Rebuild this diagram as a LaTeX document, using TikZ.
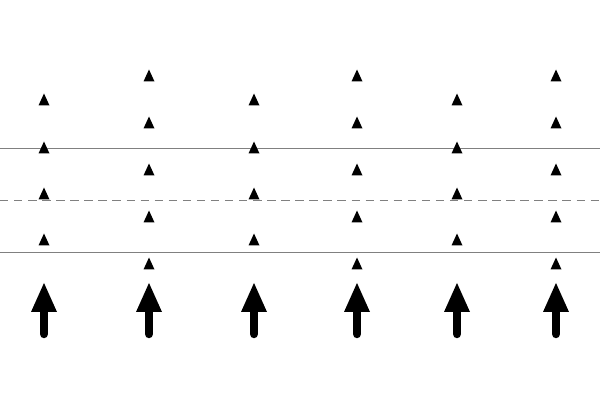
\documentclass[tikz,border=0pt]{standalone}
\usetikzlibrary{positioning}
\tikzset{
  guide/.style={gray, line width=0.5pt},
  marker/.style={fill=black},
  bigarrow/.style={line width=6pt, line cap=round}
}
\newcommand{\tri}[2]{\fill[marker] (#1-5.5,#2+5.5) -- (#1+5.5,#2+5.5) -- (#1,#2-6.5) -- cycle;}
\begin{document}
\begin{tikzpicture}[x=0.025cm,y=-0.025cm]
  \useasboundingbox (0,0) rectangle (600,400);
  % guide lines
  \draw[guide] (0,148) -- (600,148);
  \draw[guide] (0,252) -- (600,252);
  \draw[guide, dash pattern=on 6pt off 4pt] (0,200) -- (600,200);
  % short columns
  \foreach \x in {44,254,457} {
    \foreach \y in {100,148,194,240} { \tri{\x}{\y} }
  }
  % tall columns
  \foreach \x in {149,357,556} {
    \foreach \y in {76,123,170,217,264} { \tri{\x}{\y} }
  }
  % arrows
  \foreach \x in {44,149,254,357,457,556} {
    \draw[bigarrow] (\x,334) -- (\x,308);
    \fill[marker] (\x-13,312) -- (\x+13,312) -- (\x,283) -- cycle;
  }
\end{tikzpicture}
\end{document}
